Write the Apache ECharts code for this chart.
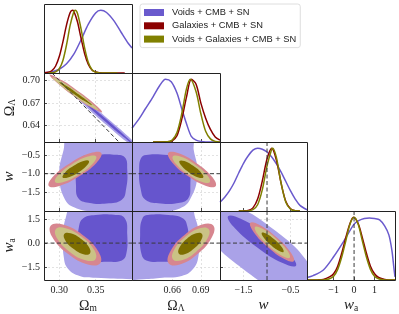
<!DOCTYPE html>
<html><head><meta charset="utf-8">
<script src="https://cdn.jsdelivr.net/npm/echarts@6/dist/echarts.min.js"></script>
<style>html,body{margin:0;padding:0;background:#fff}#c{width:399px;height:314px}</style>
</head><body><div id="c"></div>
<script>
// ---------------- data ----------------
const seriesNames = ['Voids + CMB + SN', 'Galaxies + CMB + SN', 'Voids + Galaxies + CMB + SN'];
const lineColors = ['#6a5acd', '#8b0000', '#808000'];
const fillOuter = ['#aaa2e8', '#d7868f', '#cac285'];
const fillInner = ['#6655cd', '#b24c58', '#7e6f00'];

// axis ranges
const omRange = [0.279, 0.400];
const olRange = [0.618, 0.710];
const wRange = [-2.0, -0.15];
const waRange = [-2.3, 2.0];
// tick values
const omTicks = [0.30, 0.35];
const olTicksX = [0.66, 0.69];
const olTicksY = [0.64, 0.67, 0.70];
const wTicksX = [-1.5, -0.5];
const wTicksY = [-1.5, -1.0, -0.5];
const waTicksX = [-1, 0, 1];
const waTicksY = [-1.5, 0.0, 1.5];

// fiducial reference values
const wFid = -1.0;
const waFid = 0.0;
const flatLine = [[0.29, 0.71], [0.382, 0.618]]; // Omega_m + Omega_Lambda = 1

// 1D marginals (normalised to peak)
const omBlueX = [0.280, 0.290, 0.300, 0.310, 0.320, 0.330, 0.340, 0.350, 0.357, 0.365, 0.375, 0.385, 0.395, 0.400];
const omBlueY = [0.006, 0.02, 0.06, 0.147, 0.30, 0.53, 0.78, 0.958, 1.0, 0.965, 0.835, 0.65, 0.47, 0.40];
const omRedX = [0.279, 0.285, 0.290, 0.295, 0.300, 0.305, 0.310, 0.315, 0.318, 0.320, 0.325, 0.330, 0.335, 0.340, 0.345, 0.350, 0.355, 0.360, 0.370, 0.390];
const omRedY = [0.003, 0.011, 0.039, 0.112, 0.262, 0.497, 0.768, 0.963, 1.0, 0.984, 0.817, 0.551, 0.303, 0.135, 0.049, 0.015, 0.004, 0.001, 0, 0];
const omOliveX = [0.285, 0.290, 0.295, 0.300, 0.305, 0.310, 0.315, 0.320, 0.322, 0.325, 0.330, 0.335, 0.340, 0.345, 0.350, 0.355, 0.360, 0.380];
const omOliveY = [0, 0.003, 0.018, 0.068, 0.20, 0.45, 0.762, 0.978, 1.0, 0.951, 0.70, 0.392, 0.166, 0.053, 0.013, 0.002, 0, 0];

const olBlueX = [0.618, 0.625, 0.632, 0.640, 0.647, 0.653, 0.659, 0.665, 0.670, 0.675, 0.680, 0.685, 0.690, 0.700, 0.710];
const olBlueY = [0.22, 0.36, 0.53, 0.72, 0.90, 1.0, 0.96, 0.78, 0.53, 0.29, 0.09, 0.03, 0.01, 0, 0];
const olRedX = [0.640, 0.655, 0.660, 0.665, 0.670, 0.675, 0.680, 0.685, 0.690, 0.695, 0.700, 0.705, 0.710];
const olRedY = [0, 0.003, 0.02, 0.10, 0.36, 0.72, 1.0, 0.92, 0.62, 0.38, 0.20, 0.08, 0.03];
const olOliveX = [0.640, 0.655, 0.660, 0.665, 0.670, 0.675, 0.679, 0.685, 0.690, 0.695, 0.700, 0.705, 0.710];
const olOliveY = [0, 0.003, 0.03, 0.15, 0.45, 0.85, 1.0, 0.80, 0.45, 0.17, 0.05, 0.01, 0];

const wBlueX = [-2.0, -1.9, -1.8, -1.7, -1.6, -1.5, -1.4, -1.3, -1.2, -1.1, -1.0, -0.9, -0.8, -0.7, -0.6, -0.5, -0.4, -0.3, -0.15];
const wBlueY = [0.14, 0.22, 0.32, 0.45, 0.61, 0.76, 0.88, 0.97, 1.0, 0.985, 0.94, 0.86, 0.75, 0.62, 0.47, 0.32, 0.19, 0.09, 0.02];
const wRedX = [-1.6, -1.5, -1.4, -1.3, -1.2, -1.1, -1.0, -0.9, -0.8, -0.7, -0.6, -0.5, -0.4, -0.3];
const wRedY = [0, 0.002, 0.01, 0.05, 0.19, 0.48, 0.83, 1.0, 0.81, 0.44, 0.15, 0.036, 0.005, 0];
const wOliveX = [-1.6, -1.4, -1.3, -1.2, -1.1, -1.0, -0.9, -0.879, -0.8, -0.7, -0.6, -0.5, -0.4, -0.3];
const wOliveY = [0, 0.002, 0.02, 0.10, 0.34, 0.72, 0.99, 1.0, 0.85, 0.44, 0.14, 0.03, 0.003, 0];

const waBlueX = [-2.3, -2.0, -1.5, -1.0, -0.5, 0.0, 0.25, 0.5, 0.75, 1.0, 1.25, 1.5, 1.7, 1.85, 1.95, 2.0];
const waBlueY = [0.04, 0.07, 0.16, 0.37, 0.62, 0.89, 0.95, 0.98, 0.99, 0.98, 0.96, 0.86, 0.72, 0.47, 0.18, 0.05];
const waRedX = [-2.3, -1.8, -1.5, -1.2, -1.0, -0.8, -0.6, -0.4, -0.2, -0.03, 0.2, 0.4, 0.6, 0.8, 1.0, 1.2, 1.5, 2.0];
const waRedY = [0, 0.002, 0.01, 0.05, 0.10, 0.22, 0.43, 0.68, 0.90, 1.0, 0.90, 0.68, 0.43, 0.22, 0.10, 0.04, 0.01, 0];
const waOliveX = [-2.3, -1.5, -1.2, -1.0, -0.8, -0.6, -0.4, -0.2, 0.0, 0.2, 0.4, 0.6, 0.8, 1.0, 1.2, 1.5, 2.0];
const waOliveY = [0, 0.001, 0.02, 0.06, 0.17, 0.37, 0.63, 0.89, 1.0, 0.89, 0.63, 0.37, 0.17, 0.06, 0.02, 0.001, 0];

// 2D contours (95% outer, 68% inner), vertices
const omOl_blue95 = [[0.308,0.693],[0.3373,0.6731],[0.3665,0.6495],[0.3958,0.6246],[0.425,0.596],[0.3958,0.6160],[0.3665,0.6395],[0.3373,0.6645]];
const omOl_blue68 = [[0.322,0.682],[0.3428,0.6665],[0.3635,0.6495],[0.3843,0.6317],[0.405,0.6125],[0.3843,0.6279],[0.3635,0.6451],[0.3428,0.6627]];
const omOl_red95 = [[0.2865,0.7078],[0.3046,0.6999],[0.32275,0.6881],[0.3409,0.6749],[0.359,0.6578],[0.3409,0.6657],[0.32275,0.6775],[0.3046,0.6907]];
const omOl_red68 = [[0.296,0.7013],[0.30935,0.6944],[0.32275,0.6854],[0.33615,0.6759],[0.3495,0.6643],[0.33615,0.6713],[0.32275,0.6802],[0.30935,0.6898]];
const omOl_olive95 = [[0.2905,0.7045],[0.3064,0.6971],[0.32225,0.6867],[0.3381,0.6751],[0.354,0.6605],[0.3381,0.6679],[0.32225,0.6783],[0.3064,0.6899]];
const omOl_olive68 = [[0.300,0.6978],[0.31125,0.6919],[0.3225,0.6845],[0.33375,0.6766],[0.345,0.6672],[0.33375,0.6732],[0.3225,0.6805],[0.31125,0.6885]];

const omW_blue95 = [[0.312,-0.05],[0.306,-0.36],[0.300,-1.03],[0.308,-1.70],[0.324,-1.93],[0.35,-2.02],[0.38,-2.05],[0.45,-2.05],[0.45,-0.05]];
const omW_blue68 = [[0.330,-0.56],[0.350,-0.50],[0.375,-0.49],[0.390,-0.56],[0.3935,-0.9],[0.392,-1.4],[0.386,-1.70],[0.365,-1.80],[0.340,-1.78],[0.326,-1.65],[0.323,-1.3],[0.324,-0.85]];
const omW_red95 = [[0.3578,-0.448],[0.3513,-0.705],[0.3274,-1.070],[0.3002,-1.327],[0.2855,-1.327],[0.2919,-1.070],[0.3159,-0.705],[0.3431,-0.448]];
const omW_red68 = [[0.3443,-0.615],[0.3403,-0.774],[0.3255,-1.000],[0.3086,-1.160],[0.2995,-1.160],[0.3035,-1.000],[0.3183,-0.774],[0.3352,-0.615]];
const omW_olive95 = [[0.3507,-0.538],[0.3456,-0.738],[0.3270,-1.023],[0.3058,-1.223],[0.2943,-1.223],[0.2993,-1.023],[0.3180,-0.738],[0.3392,-0.538]];
const omW_olive68 = [[0.3408,-0.6605],[0.3375,-0.789],[0.3256,-0.9715],[0.3119,-1.100],[0.3046,-1.100],[0.3078,-0.9715],[0.3198,-0.789],[0.3334,-0.6605]];

const omWa_blue95 = [[0.318,2.3],[0.309,1.6],[0.3055,0.5],[0.306,-0.8],[0.312,-1.6],[0.328,-2.05],[0.35,-2.16],[0.40,-2.25],[0.45,-2.25],[0.45,2.3]];
const omWa_blue68 = [[0.333,1.55],[0.350,1.75],[0.375,1.76],[0.390,1.55],[0.3935,0.5],[0.392,-0.7],[0.386,-1.08],[0.365,-1.17],[0.340,-1.14],[0.328,-0.95],[0.326,0.0],[0.327,1.0]];
const omWa_red95 = [[0.3563,-1.253],[0.3392,-1.334],[0.3123,-0.686],[0.2911,0.311],[0.2881,1.078],[0.3051,1.159],[0.3321,0.511],[0.3533,-0.487]];
const omWa_red68 = [[0.3433,-0.810],[0.3327,-0.861],[0.3161,-0.459],[0.3029,0.159],[0.3011,0.635],[0.3116,0.685],[0.3283,0.283],[0.3415,-0.335]];
const omWa_olive95 = [[0.3498,-1.002],[0.3361,-1.067],[0.3146,-0.548],[0.2976,0.249],[0.2952,0.863],[0.3088,0.928],[0.3304,0.409],[0.3474,-0.389]];
const omWa_olive68 = [[0.3422,-0.646],[0.3333,-0.688],[0.3194,-0.351],[0.3083,0.167],[0.3068,0.566],[0.3156,0.608],[0.3296,0.271],[0.3407,-0.247]];

const olW_blue95 = [[0.680,-0.05],[0.6825,-0.36],[0.6865,-1.03],[0.6785,-1.70],[0.668,-1.93],[0.65,-2.02],[0.63,-2.05],[0.58,-2.05],[0.58,-0.05]];
const olW_blue68 = [[0.672,-0.56],[0.655,-0.50],[0.635,-0.49],[0.628,-0.56],[0.6255,-0.9],[0.627,-1.4],[0.632,-1.70],[0.648,-1.80],[0.668,-1.78],[0.677,-1.65],[0.679,-1.3],[0.678,-0.85]];
const olW_red95 = [[0.6558,-0.448],[0.6602,-0.705],[0.6768,-1.070],[0.6955,-1.327],[0.7056,-1.327],[0.7012,-1.070],[0.6847,-0.705],[0.6660,-0.448]];
const olW_red68 = [[0.6653,-0.615],[0.6680,-0.774],[0.6783,-1.000],[0.6899,-1.160],[0.6961,-1.160],[0.6934,-1.000],[0.6832,-0.774],[0.6716,-0.615]];
const olW_olive95 = [[0.6606,-0.538],[0.6640,-0.738],[0.6770,-1.023],[0.6915,-1.223],[0.6994,-1.223],[0.6960,-1.023],[0.6831,-0.738],[0.6685,-0.538]];
const olW_olive68 = [[0.6676,-0.6605],[0.6698,-0.789],[0.6781,-0.9715],[0.6874,-1.100],[0.6925,-1.100],[0.6903,-0.9715],[0.682,-0.789],[0.6727,-0.6605]];

const olWa_blue95 = [[0.678,2.3],[0.684,1.6],[0.688,0.5],[0.6875,-0.8],[0.682,-1.6],[0.670,-2.05],[0.65,-2.16],[0.63,-2.25],[0.58,-2.25],[0.58,2.3]];
const olWa_blue68 = [[0.671,1.55],[0.656,1.75],[0.636,1.76],[0.629,1.55],[0.6265,0.5],[0.628,-0.7],[0.633,-1.08],[0.650,-1.17],[0.668,-1.14],[0.675,-0.95],[0.677,0.0],[0.676,1.0]];
const olWa_red95 = [[0.6562,-1.253],[0.6680,-1.334],[0.6865,-0.686],[0.7011,0.311],[0.7032,1.078],[0.6914,1.159],[0.6729,0.511],[0.6583,-0.487]];
const olWa_red68 = [[0.6651,-0.810],[0.6724,-0.861],[0.6839,-0.459],[0.6930,0.159],[0.6943,0.635],[0.6870,0.685],[0.6755,0.283],[0.6664,-0.335]];
const olWa_olive95 = [[0.6607,-1.002],[0.6701,-1.067],[0.6849,-0.548],[0.6966,0.249],[0.6983,0.863],[0.6889,0.928],[0.6741,0.409],[0.6624,-0.389]];
const olWa_olive68 = [[0.6668,-0.646],[0.6729,-0.688],[0.6825,-0.351],[0.6901,0.167],[0.6912,0.566],[0.6851,0.608],[0.6755,0.271],[0.6679,-0.247]];

const wWa_blue95 = [[0.082,-3.185],[-0.518,-3.235],[-1.511,-1.614],[-2.317,0.741],[-2.466,2.449],[-1.866,2.499],[-0.871,0.878],[-0.067,-1.477]];
const wWa_blue68 = [[-0.384,-1.409],[-0.667,-1.247],[-1.207,-0.275],[-1.687,0.934],[-1.830,1.670],[-1.547,1.508],[-1.007,0.536],[-0.526,-0.673]];
const wWa_red95 = [[-0.433,-1.128],[-0.633,-0.991],[-0.986,-0.237],[-1.286,0.698],[-1.356,1.265],[-1.156,1.128],[-0.803,0.373],[-0.503,-0.561]];
const wWa_red68 = [[-0.608,-0.674],[-0.732,-0.589],[-0.951,-0.121],[-1.137,0.459],[-1.180,0.810],[-1.056,0.725],[-0.838,0.257],[-0.652,-0.322]];
const wWa_olive95 = [[-0.516,-0.907],[-0.676,-0.797],[-0.959,-0.194],[-1.199,0.554],[-1.255,1.008],[-1.095,0.898],[-0.812,0.294],[-0.572,-0.453]];
const wWa_olive68 = [[-0.6495,-0.548],[-0.7495,-0.4795],[-0.926,-0.1025],[-1.076,0.365],[-1.111,0.6485],[-1.011,0.58],[-0.8345,0.2025],[-0.6845,-0.2645]];

// ---------------- layout / assembly ----------------
const colL = [44, 132, 220, 307], colW = [88, 88, 87, 88];
const rowT = [4, 73, 142, 211], rowH = 69;
const serif = 'Liberation Serif';

const P = [
  {range: omRange, tx: omTicks, ty: omTicks, dx: 2, dy: 2, name: '{o|Ω}{s|m}'},
  {range: olRange, tx: olTicksX, ty: olTicksY, dx: 2, dy: 2, name: '{o|Ω}{s|Λ}'},
  {range: wRange, tx: wTicksX, ty: wTicksY, dx: 1, dy: 1, name: '{i|w}'},
  {range: waRange, tx: waTicksX, ty: waTicksY, dx: 0, dy: 1, name: '{i|w}{s|a}'}
];
const oneD = [
  [[omBlueX, omBlueY], [omRedX, omRedY], [omOliveX, omOliveY]],
  [[olBlueX, olBlueY], [olRedX, olRedY], [olOliveX, olOliveY]],
  [[wBlueX, wBlueY], [wRedX, wRedY], [wOliveX, wOliveY]],
  [[waBlueX, waBlueY], [waRedX, waRedY], [waOliveX, waOliveY]]
];
const twoD = {
  '1,0': [omOl_blue95, omOl_blue68, omOl_red95, omOl_red68, omOl_olive95, omOl_olive68],
  '2,0': [omW_blue95, omW_blue68, omW_red95, omW_red68, omW_olive95, omW_olive68],
  '3,0': [omWa_blue95, omWa_blue68, omWa_red95, omWa_red68, omWa_olive95, omWa_olive68],
  '2,1': [olW_blue95, olW_blue68, olW_red95, olW_red68, olW_olive95, olW_olive68],
  '3,1': [olWa_blue95, olWa_blue68, olWa_red95, olWa_red68, olWa_olive95, olWa_olive68],
  '3,2': [wWa_blue95, wWa_blue68, wWa_red95, wWa_red68, wWa_olive95, wWa_olive68]
};
const contourFill = [fillOuter[0], fillInner[0], fillOuter[1], fillInner[1], fillOuter[2], fillInner[2]];
const refLines = {
  '1,0': [flatLine],
  '2,0': [[[omRange[0], wFid], [omRange[1], wFid]]],
  '2,1': [[[olRange[0], wFid], [olRange[1], wFid]]],
  '2,2': [[[wFid, 0], [wFid, 1.1]]],
  '3,0': [[[omRange[0], waFid], [omRange[1], waFid]]],
  '3,1': [[[olRange[0], waFid], [olRange[1], waFid]]],
  '3,2': [[[wRange[0], waFid], [wRange[1], waFid]], [[wFid, waRange[0]], [wFid, waRange[1]]]],
  '3,3': [[[waFid, 0], [waFid, 1.1]]]
};

const cells = [];
let gi = 0;
for (let r = 0; r < 4; r++) for (let c = 0; c <= r; c++) cells.push({r, c, g: gi++});

const fmt = d => v => (v < 0 ? '\u2212' : '') + Math.abs(v).toFixed(d);
const nameRich = {
  o: {fontFamily: serif, fontSize: 14, lineHeight: 16, verticalAlign: 'bottom', color: '#222'},
  i: {fontFamily: serif, fontStyle: 'italic', fontSize: 15, lineHeight: 16, verticalAlign: 'bottom', color: '#222'},
  s: {fontFamily: serif, fontSize: 9.5, lineHeight: 7, verticalAlign: 'bottom', color: '#222'}
};
const gridLine = {show: true, lineStyle: {color: '#d6d6d6', width: 0.7, type: [2, 2]}};

const grid = cells.map(o => ({left: colL[o.c], top: rowT[o.r], width: colW[o.c], height: rowH, show: false}));
const xAxis = cells.map(o => {
  const p = P[o.c], bottom = o.r === 3;
  return {
    type: 'value', gridIndex: o.g, min: p.range[0], max: p.range[1],
    axisLine: {show: false},
    axisTick: {show: true, inside: true, length: 3, customValues: p.tx, lineStyle: {color: '#222', width: 0.8}},
    axisLabel: {show: bottom, customValues: p.tx, formatter: fmt(p.dx), fontFamily: serif, fontSize: 10, color: '#222', margin: 5},
    splitLine: o.r !== o.c ? gridLine : {show: false},
    name: bottom ? p.name : '', nameLocation: 'middle', nameGap: 17, nameTextStyle: {rich: nameRich}
  };
});
const yAxis = cells.map(o => {
  if (o.r === o.c) return {type: 'value', gridIndex: o.g, min: 0, max: 1.1, show: false};
  const p = P[o.r], left = o.c === 0;
  return {
    type: 'value', gridIndex: o.g, min: p.range[0], max: p.range[1],
    axisLine: {show: false},
    axisTick: {show: true, inside: true, length: 3, customValues: p.ty, lineStyle: {color: '#222', width: 0.8}},
    axisLabel: {show: left, customValues: p.ty, formatter: fmt(p.dy), fontFamily: serif, fontSize: 10, color: '#222', margin: 4},
    splitLine: gridLine,
    name: left ? p.name : '', nameLocation: 'middle', nameGap: 27, nameRotate: 90, nameTextStyle: {rich: nameRich}
  };
});

const series = [];
cells.forEach(o => {
  const key = o.r + ',' + o.c;
  if (o.r === o.c) {
    oneD[o.c].forEach((xy, k) => {
      series.push({
        type: 'line', name: seriesNames[k], xAxisIndex: o.g, yAxisIndex: o.g,
        data: xy[0].map((x, i) => [x, xy[1][i]]),
        smooth: 0.3, symbol: 'none', showSymbol: false, silent: true, z: 3,
        lineStyle: {color: lineColors[k], width: 1.5}, itemStyle: {color: lineColors[k]}
      });
    });
  } else {
    const polys = twoD[key];
    series.push({
      type: 'custom', xAxisIndex: o.g, yAxisIndex: o.g, clip: true, silent: true, z: 2,
      data: polys.map((p, i) => [p[0][0], p[0][1], i]),
      renderItem: (params, api) => {
        const poly = polys[params.dataIndex];
        return {
          type: 'polygon',
          shape: {points: poly.map(pt => api.coord(pt)), smooth: 0.45},
          style: {fill: contourFill[params.dataIndex], stroke: null}
        };
      }
    });
  }
  (refLines[key] || []).forEach(seg => {
    series.push({
      type: 'line', xAxisIndex: o.g, yAxisIndex: o.g, data: seg, symbol: 'none', silent: true, z: 5,
      lineStyle: {color: '#3a3a3a', width: 1, type: [4, 2.5]}
    });
  });
});

const frames = cells.map(o => ({
  type: 'rect', silent: true, z: 100,
  shape: {x: colL[o.c] + 0.5, y: rowT[o.r] + 0.5, width: colW[o.c], height: rowH},
  style: {fill: 'transparent', stroke: '#222', lineWidth: 1}
}));

const chart = echarts.init(document.getElementById('c'), null, {renderer: 'canvas'});
chart.setOption({
  animation: false,
  backgroundColor: '#fff',
  grid, xAxis, yAxis, series,
  graphic: {elements: frames},
  legend: {
    orient: 'vertical', left: 140, top: 4, padding: [3.5, 4, 3.5, 4],
    itemWidth: 20, itemHeight: 7, itemGap: 3.3, selectedMode: false,
    backgroundColor: 'rgba(255,255,255,0.9)', borderColor: '#d6d6d6', borderWidth: 0.8, borderRadius: 2.5,
    textStyle: {fontFamily: 'Liberation Sans', fontSize: 9.3, color: '#222', lineHeight: 10, padding: [0, 0, 0, 3]},
    data: seriesNames.map((n, k) => ({name: n, icon: 'rect', itemStyle: {color: lineColors[k], borderWidth: 0}}))
  }
});
</script>
</body></html>
